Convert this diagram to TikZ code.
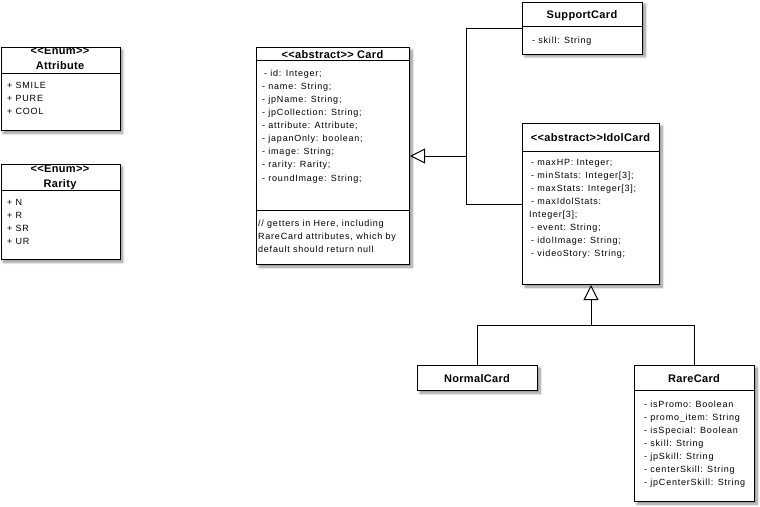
\documentclass[tikz,border=0pt]{standalone}
\usepackage{fontspec}
\setmainfont{Liberation Sans}
\newfontfamily\umlattrfont[LetterSpace=8.5]{Liberation Sans}
\newfontfamily\umltitlefont[LetterSpace=3]{Liberation Sans}
\usetikzlibrary{arrows.meta,shadows.blur}

\tikzset{
  classbox/.style={draw, line width=1pt, fill=white, inner sep=0pt, anchor=north west,
    blur shadow={shadow xshift=2.5pt, shadow yshift=-2.5pt, shadow blur radius=2.5pt,
      shadow blur steps=8, shadow opacity=45}},
  divider/.style={line width=1pt},
  classtitle/.style={font=\umltitlefont\bfseries\fontsize{11}{13}\selectfont, inner sep=0pt, anchor=base},
  member/.style={font=\umlattrfont\fontsize{9}{13}\selectfont, inner sep=0pt, anchor=base west},
  conn/.style={line width=1pt},
  inherit/.style={conn, -{Triangle[open, length=15pt, width=15pt, fill=white]}},
}

\begin{document}
\begin{tikzpicture}[x=1pt, y=-1pt]
\path[use as bounding box] (0,0) rectangle (760,506);

% ---- class boxes ----
\node[classbox, minimum width=119pt, minimum height=83pt]  (attribute) at (0.5,47) {};
\node[classbox, minimum width=119pt, minimum height=95pt]  (rarity)    at (0.5,164) {};
\node[classbox, minimum width=153pt, minimum height=217pt] (card)      at (256,47) {};
\node[classbox, minimum width=120pt, minimum height=52pt]  (support)   at (522,1.5) {};
\node[classbox, minimum width=137pt, minimum height=161pt] (idol)      at (522,123) {};
\node[classbox, minimum width=120pt, minimum height=25pt]  (normal)    at (417,365) {};
\node[classbox, minimum width=120pt, minimum height=136pt] (rare)      at (634,365) {};

% ---- compartment dividers ----
\draw[divider] (0.5,73) -- (119.5,73);
\draw[divider] (0.5,190) -- (119.5,190);
\draw[divider] (256,60) -- (409,60);
\draw[divider] (256,210.5) -- (409,210.5);
\draw[divider] (522,26) -- (642,26);
\draw[divider] (522,151) -- (659,151);
\draw[divider] (634,390) -- (754,390);

% ---- Attribute enum (stereotype clipped by the box edge) ----
\begin{scope}
  \clip (attribute.north west) rectangle (attribute.south east);
  \node[classtitle] (attribute-st) at (60,54.5) {<<Enum>>};
\end{scope}
\draw[line width=1pt] (attribute.north west) -- (attribute.north east);
\node[classtitle] (attribute-t)  at (60,69.5) {Attribute};
\foreach \txt [count=\i] in {+ SMILE, + PURE, + COOL}
  \node[member] (attribute-m\i) at (7,{88.2+13*(\i-1)}) {\txt};

% ---- Rarity enum ----
\begin{scope}
  \clip (rarity.north west) rectangle (rarity.south east);
  \node[classtitle] (rarity-st) at (60,172.5) {<<Enum>>};
\end{scope}
\draw[line width=1pt] (rarity.north west) -- (rarity.north east);
\node[classtitle] (rarity-t)  at (60,187) {Rarity};
\foreach \txt [count=\i] in {+ N, + R, + SR, + UR}
  \node[member] (rarity-m\i) at (7,{205.2+13*(\i-1)}) {\txt};

% ---- Card ----
\node[classtitle] (card-t) at (332.5,58) {<<abstract>> Card};
\node[member] (card-m1) at (264,76.2) {- id: Integer;};
\foreach \txt [count=\i from 2] in {- name: String;, - jpName: String;, - jpCollection: String;,
    - attribute: Attribute;, - japanOnly: boolean;, - image: String;, - rarity: Rarity;,
    - roundImage: String;}
  \node[member] (card-m\i) at (262,{76.2+13.1*(\i-1)}) {\txt};
\foreach \txt [count=\i] in {// getters in Here{,} including, RareCard attributes{,} which by,
    default should return null}
  \node[member] (card-c\i) at (258,{226.2+13*(\i-1)}) {\txt};

% ---- SupportCard ----
\node[classtitle] (support-t) at (582,18) {SupportCard};
\node[member] (support-m1) at (532,43.2) {- skill: String};

% ---- IdolCard ----
\node[classtitle] (idol-t) at (590.5,141) {<<abstract>>IdolCard};
\foreach \txt/\xx [count=\i] in {- maxHP: Integer;/531, - minStats: Integer[3];/531,
    - maxStats: Integer[3];/531, - maxIdolStats:/531, Integer[3];/529, - event: String;/531,
    - idolImage: String;/531, - videoStory: String;/531}
  \node[member] (idol-m\i) at (\xx,{165.2+13*(\i-1)}) {\txt};

% ---- NormalCard ----
\node[classtitle] (normal-t) at (477,382) {NormalCard};

% ---- RareCard ----
\node[classtitle] (rare-t) at (694,382) {RareCard};
\foreach \txt [count=\i] in {- isPromo: Boolean, - promo\_item: String, - isSpecial: Boolean,
    - skill: String, - jpSkill: String, - centerSkill: String, - jpCenterSkill: String}
  \node[member] (rare-m\i) at (644,{407.2+13*(\i-1)}) {\txt};

% ---- generalisation: SupportCard, IdolCard -> Card ----
\coordinate (j1) at ([xshift=56pt]card.east);
\draw[conn] (support.west) -| (j1);
\draw[conn] (idol.west) -| (j1);
\draw[inherit] (j1) -- (card.east);

% ---- generalisation: NormalCard, RareCard -> IdolCard ----
\coordinate (j2) at ([yshift=-40pt]idol.south);
\draw[conn] (normal.north) |- (j2);
\draw[conn] (rare.north) |- (j2);
\draw[inherit] (j2) -- (idol.south);
\end{tikzpicture}
\end{document}
